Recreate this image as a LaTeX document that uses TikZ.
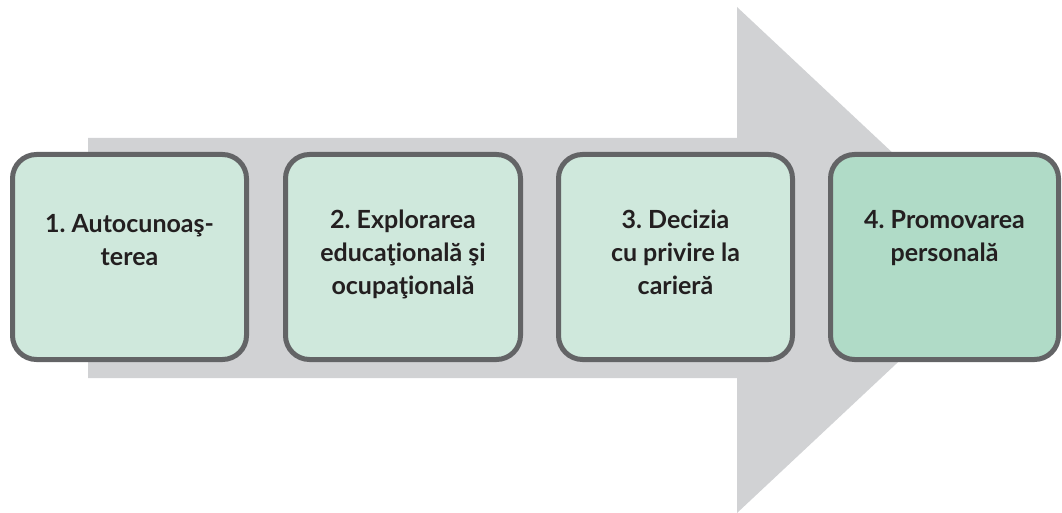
\documentclass[tikz,border=0pt]{standalone}
\usepackage{fontspec}
\setmainfont{Lato}
\frenchspacing
\definecolor{arrowgray}{HTML}{D1D2D4}
\definecolor{boxline}{HTML}{636466}
\definecolor{boxfill}{HTML}{CFE8DC}
\definecolor{boxfilldark}{HTML}{B0DBC7}
\definecolor{txt}{HTML}{231F20}
\begin{document}
\begin{tikzpicture}[x=1pt,y=-1pt,
  box/.style={draw=boxline, line width=5pt, rounded corners=24pt, fill=boxfill,
    minimum width=234pt, minimum height=205pt, inner sep=0pt},
  lbl/.style={font=\fontsize{25}{33}\selectfont\bfseries\frenchspacing, text=txt, align=center,
    anchor=north, inner sep=0pt}]
\useasboundingbox (0,0) rectangle (1062,513);
% big arrow
\fill[arrowgray] (88,138) -- (737,138) -- (737,7) -- (1007,260) -- (737,513)
  -- (737,378) -- (88,378) -- cycle;
% boxes
\node[box] (b1) at (129.5,257) {};
\node[box, minimum width=235pt] (b2) at (403,257) {};
\node[box] (b3) at (675.5,257) {};
\node[box, minimum width=228pt, fill=boxfilldark] (b4) at (944.5,257) {};
% labels
\node[lbl] (t1) at (129.5,214) {1. Autocunoaş-\\terea};
\node[lbl] (t2) at (403,210) {2. Explorarea\\educaţională şi\\ocupaţională};
\node[lbl] (t3) at (675.5,210) {3. Decizia\\cu privire la\\carieră};
\node[lbl] (t4) at (944.5,210) {4. Promovarea\\personală};
\end{tikzpicture}
\end{document}
